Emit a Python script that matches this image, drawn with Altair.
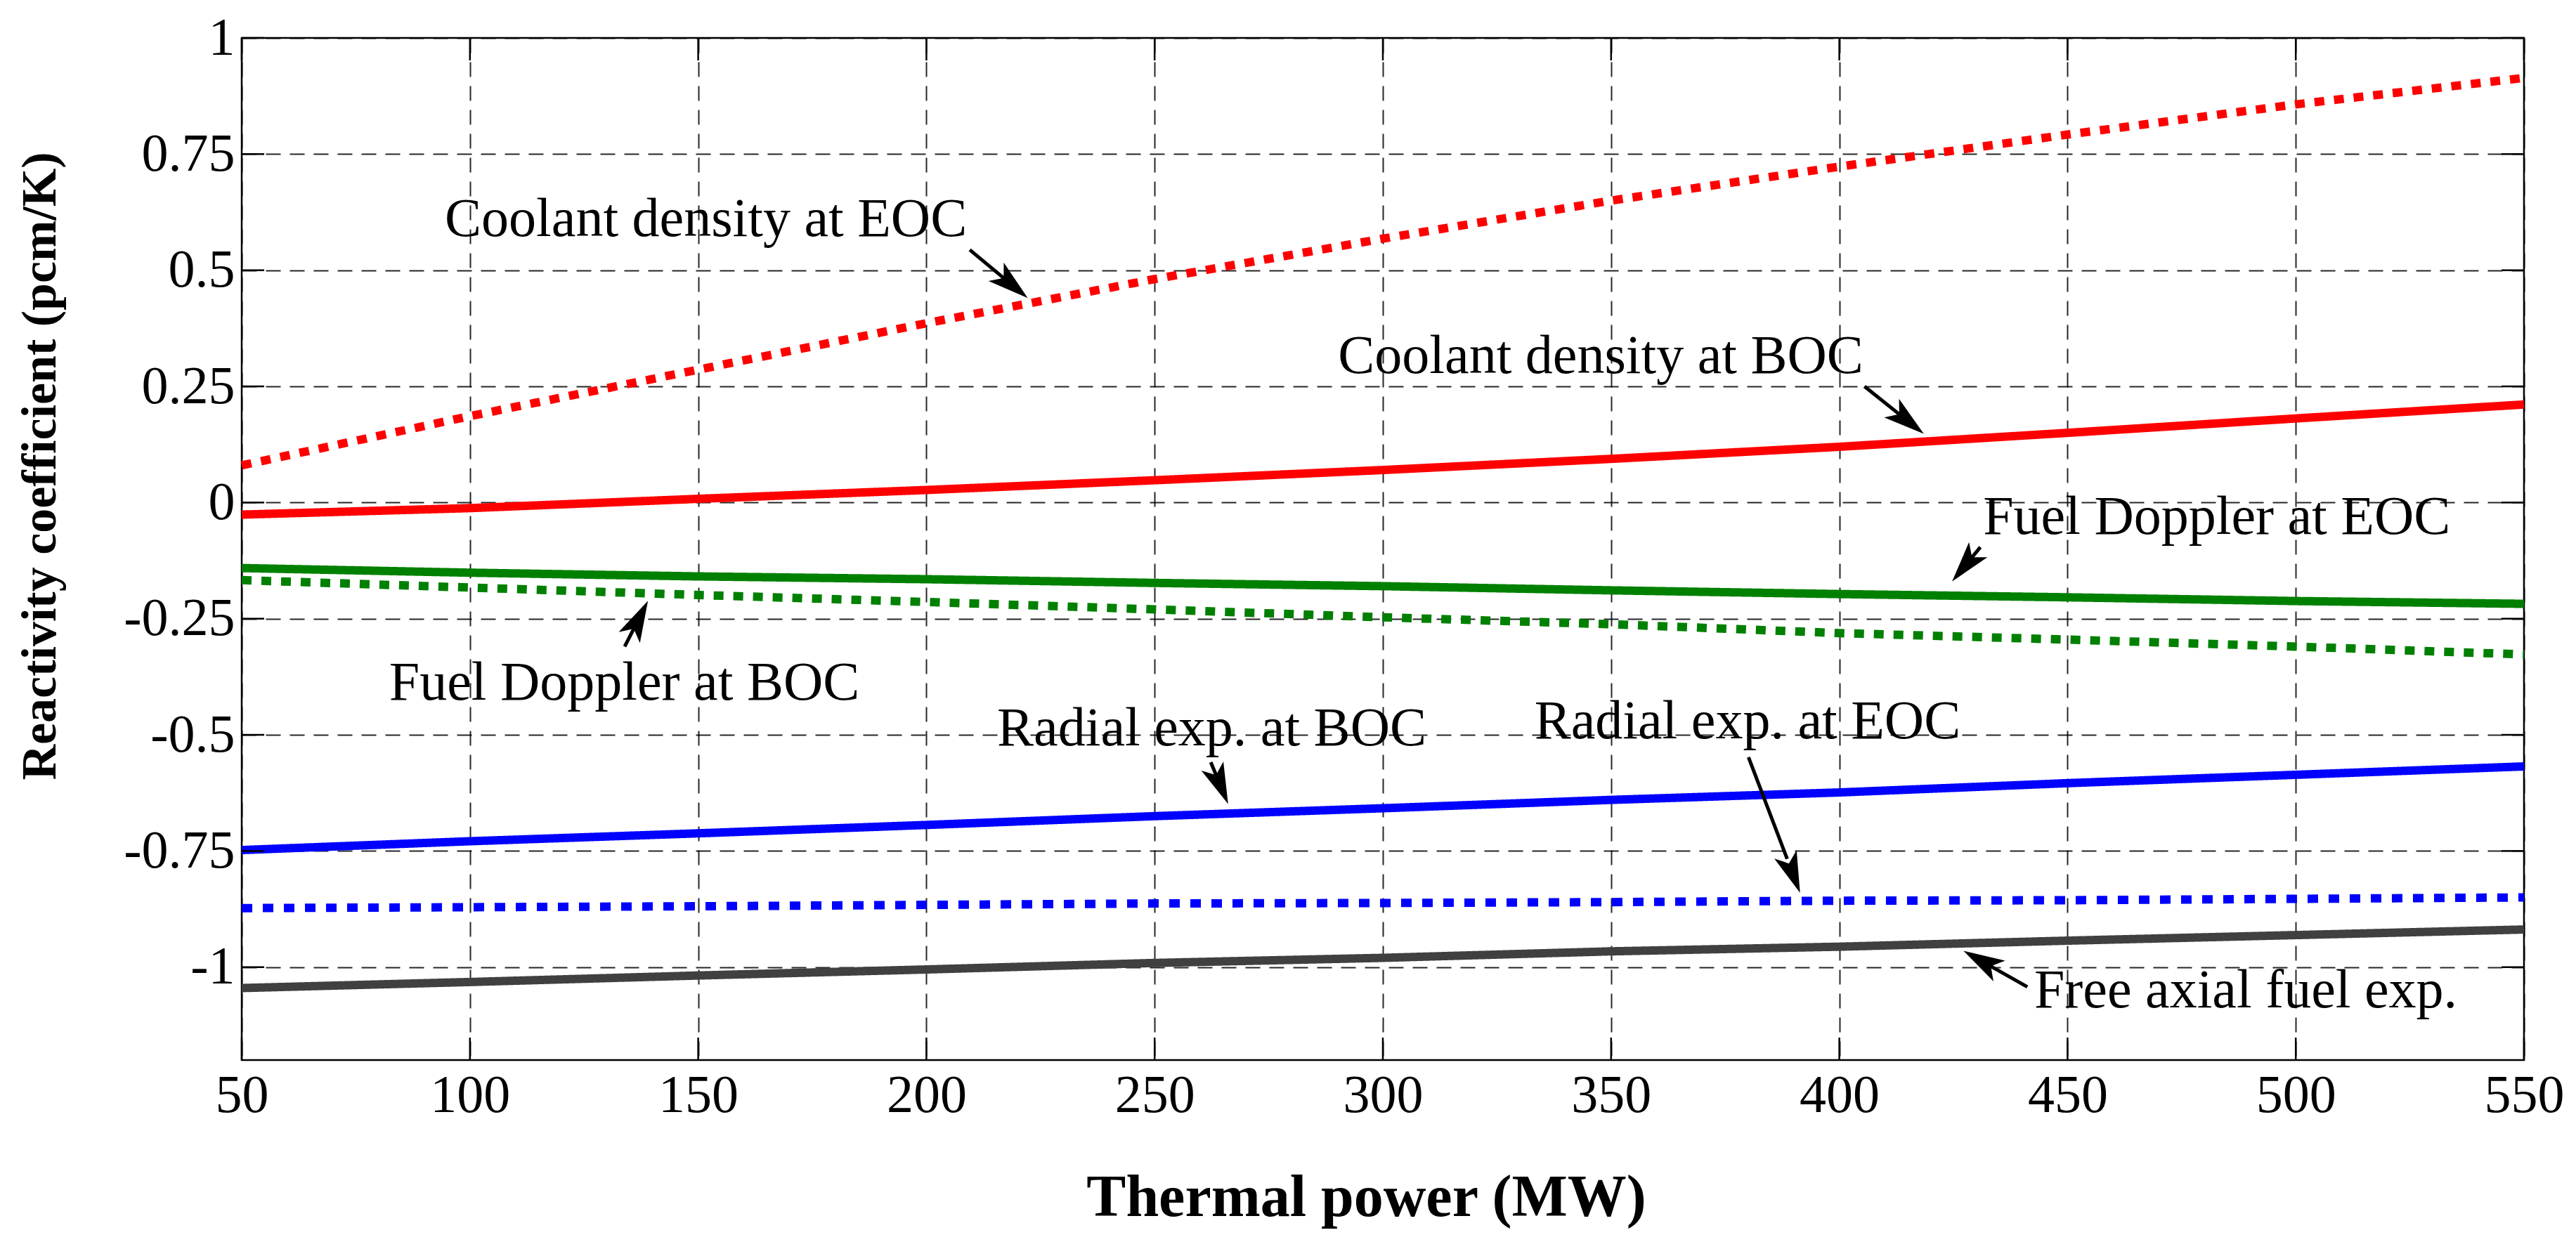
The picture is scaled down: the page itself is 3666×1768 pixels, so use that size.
import math
import altair as alt
import pandas as pd

# ---------------- data ----------------
power = [50, 100, 150, 200, 250, 300, 350, 400, 450, 500, 550]

coolant_eoc = [0.080, 0.186, 0.286, 0.386, 0.481, 0.568, 0.650, 0.723, 0.792, 0.857, 0.914]
coolant_boc = [-0.026, -0.012, 0.008, 0.027, 0.048, 0.070, 0.094, 0.120, 0.150, 0.181, 0.211]
doppler_eoc = [-0.141, -0.151, -0.159, -0.165, -0.173, -0.180, -0.189, -0.197, -0.204, -0.212, -0.218]
doppler_boc = [-0.167, -0.183, -0.199, -0.214, -0.230, -0.247, -0.262, -0.281, -0.295, -0.310, -0.327]
radial_boc = [-0.748, -0.729, -0.712, -0.694, -0.675, -0.658, -0.640, -0.624, -0.604, -0.586, -0.568]
radial_eoc = [-0.873, -0.871, -0.869, -0.866, -0.863, -0.862, -0.860, -0.857, -0.856, -0.853, -0.850]
axial_fuel = [-1.045, -1.032, -1.018, -1.005, -0.991, -0.980, -0.966, -0.956, -0.943, -0.931, -0.919]

series_names = ["coolant_eoc", "coolant_boc", "doppler_eoc", "doppler_boc",
                "radial_boc", "radial_eoc", "axial_fuel"]
series_values = [coolant_eoc, coolant_boc, doppler_eoc, doppler_boc,
                 radial_boc, radial_eoc, axial_fuel]
series_colors = ["#ff0000", "#ff0000", "#008000", "#008000", "#0000ff", "#0000ff", "#404040"]
series_dash = [[14, 14], [1, 0], [1, 0], [14, 14], [1, 0], [15, 15], [1, 0]]

x_ticks = [50, 100, 150, 200, 250, 300, 350, 400, 450, 500, 550]
y_ticks = [-1, -0.75, -0.5, -0.25, 0, 0.25, 0.5, 0.75, 1]

ann_text = ["Coolant density at EOC", "Coolant density at BOC", "Fuel Doppler at EOC",
            "Fuel Doppler at BOC", "Radial exp. at BOC", "Radial exp. at EOC",
            "Free axial fuel exp."]
ann_x = [94.5, 290.2, 431.5, 82.3, 215.5, 333.2, 442.7]
ann_y = [0.574, 0.279, -0.067, -0.425, -0.523, -0.507, -1.086]
arrow_x0 = [209.5, 405.5, 430.9, 133.9, 262.3, 380.1, 441.2]
arrow_y0 = [0.544, 0.250, -0.096, -0.310, -0.559, -0.548, -1.0425]
arrow_x1 = [222.2, 418.5, 424.7, 139.0, 266.1, 391.4, 427.2]
arrow_y1 = [0.440, 0.148, -0.170, -0.2115, -0.649, -0.840, -0.965]

# ---------------- layout ----------------
W, H = 3248, 1455
X_DOM = [50, 550]
Y_DOM = [-1.2, 1]
FONT = "Liberation Serif"
TICK_LEN = 32

rows = []
for name, vals in zip(series_names, series_values):
    for p, v in zip(power, vals):
        rows.append({"series": name, "power": p, "value": v})
df = pd.DataFrame(rows)

xs = alt.Scale(domain=X_DOM, nice=False, zero=False)
ys = alt.Scale(domain=Y_DOM, nice=False, zero=False)

x_axis = alt.Axis(values=x_ticks, format="d", title="Thermal power (MW)",
                  grid=True, ticks=False, domain=False, labelPadding=13,
                  labelFlush=False, labelOverlap=False,
                  titleX=W / 2 - 24, titleY=221, titleBaseline="alphabetic",
                  titleAlign="center")
y_axis = alt.Axis(values=y_ticks, labelExpr="'' + datum.value",
                  title="Reactivity coefficient (pcm/K)", grid=True,
                  ticks=False, domain=False, labelPadding=10,
                  labelFlush=False, labelOverlap=False,
                  titleAngle=270, titleX=-266, titleY=609,
                  titleBaseline="alphabetic", titleAlign="center",
                  titleFontSize=70)


def X(field):
    return alt.X(field, scale=xs, axis=x_axis, title="Thermal power (MW)")


def Y(field):
    return alt.Y(field, scale=ys, axis=y_axis, title="Reactivity coefficient (pcm/K)")


lines = alt.Chart(df).mark_line(strokeWidth=12, strokeCap="butt").encode(
    x=X("power:Q"),
    y=Y("value:Q"),
    color=alt.Color("series:N", scale=alt.Scale(domain=series_names, range=series_colors),
                    legend=None),
    strokeDash=alt.StrokeDash("series:N",
                              scale=alt.Scale(domain=series_names, range=series_dash),
                              legend=None),
    detail="series:N",
)

# inward tick marks on all four sides (MATLAB style)
xt = pd.DataFrame({"t": x_ticks})
yt = pd.DataFrame({"t": y_ticks})
tick_style = dict(color="black", strokeWidth=2.5)
tick_xb = alt.Chart(xt).mark_rule(**tick_style).encode(
    x=X("t:Q"), y=alt.value(H), y2=alt.value(H - TICK_LEN))
tick_xt = alt.Chart(xt).mark_rule(**tick_style).encode(
    x=X("t:Q"), y=alt.value(0), y2=alt.value(TICK_LEN))
tick_yl = alt.Chart(yt).mark_rule(**tick_style).encode(
    y=Y("t:Q"), x=alt.value(0), x2=alt.value(TICK_LEN))
tick_yr = alt.Chart(yt).mark_rule(**tick_style).encode(
    y=Y("t:Q"), x=alt.value(W - TICK_LEN), x2=alt.value(W))

# annotations
ann_df = pd.DataFrame({"label": ann_text, "tx": ann_x, "ty": ann_y})
texts = alt.Chart(ann_df).mark_text(font=FONT, fontSize=78, align="left",
                                    baseline="alphabetic", color="black").encode(
    x=X("tx:Q"),
    y=Y("ty:Q"),
    text="label:N",
)

px_x = W / (X_DOM[1] - X_DOM[0])
px_y = H / (Y_DOM[1] - Y_DOM[0])
arr_rows = []
for x0, y0, x1, y1 in zip(arrow_x0, arrow_y0, arrow_x1, arrow_y1):
    dx = (x1 - x0) * px_x
    dy = -(y1 - y0) * px_y
    ang = math.degrees(math.atan2(dx, -dy)) % 360
    arr_rows.append({"x0": x0, "y0": y0,
                     "xs": x0 + 0.75 * (x1 - x0), "ys": y0 + 0.75 * (y1 - y0),
                     "x1": x1, "y1": y1, "ang": ang})
arr_df = pd.DataFrame(arr_rows)

shafts = alt.Chart(arr_df).mark_rule(color="black", strokeWidth=5).encode(
    x=X("x0:Q"), y=Y("y0:Q"),
    x2="xs:Q", y2="ys:Q",
)
heads = alt.Chart(arr_df).mark_point(
    shape="M0,0L0.55,1.9L0,1.45L-0.55,1.9Z", filled=True, size=3800,
    color="black", opacity=1, strokeWidth=0,
).encode(
    x=X("x1:Q"), y=Y("y1:Q"),
    angle=alt.Angle("ang:Q", scale=None),
)

chart = alt.layer(lines, tick_xb, tick_xt, tick_yl, tick_yr, shafts, heads, texts).properties(
    width=W, height=H,
    autosize=alt.AutoSizeParams(type="none"),
    padding={"left": 336, "top": 46, "right": 66, "bottom": 251},
    background="white",
).configure_view(
    stroke="black", strokeWidth=2.5,
).configure_axis(
    labelFont=FONT, labelFontSize=76, labelColor="black",
    titleFont=FONT, titleFontSize=84, titleFontWeight="bold", titleColor="black",
    gridColor="#000000", gridDash=[21, 13], gridWidth=2, gridOpacity=0.85,
)

chart.save("out.html", embed_options={"renderer": "svg", "actions": False})
